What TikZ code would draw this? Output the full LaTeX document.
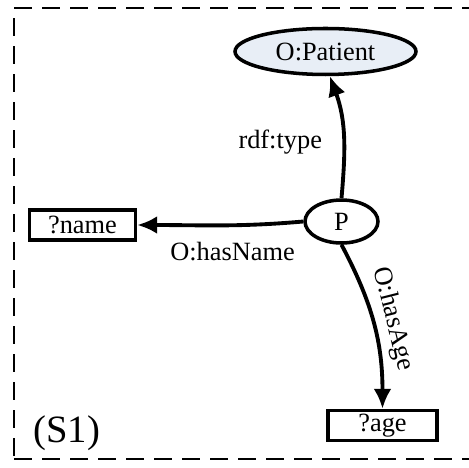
\documentclass[tikz,border=0pt]{standalone}
\usepackage{fontspec}
\setmainfont{Liberation Serif}
\usepackage{xcolor}
\usetikzlibrary{arrows.meta,positioning,shapes.geometric}
\definecolor{classfill}{RGB}{232,238,246}

\begin{document}
\begin{tikzpicture}[node distance=2cm,
        res/.style={ellipse,draw,line width=2pt,inner sep=1pt,font=\fontsize{15}{17}\selectfont},
        var/.style={rectangle,draw,line width=2pt,minimum width=2.12cm,minimum height=0.6cm,
          inner sep=0pt,font=\fontsize{15}{17}\selectfont},
        lbl/.style={font=\fontsize{15}{17}\selectfont},
        arrow/.style={-{Latex[length=4mm,width=3.6mm]},line width=2.2pt},
        frame/.style={dash pattern=on 0.36cm off 0.2cm,line width=1.2pt}]
        \useasboundingbox (0,0) rectangle (9.38,-9.34);
        \node[res,minimum width=1.46cm,minimum height=0.86cm] (p) at (6.83,-4.43) {P};
        \node[res,fill=classfill,minimum width=3.62cm,minimum height=0.92cm,
          above=2.44cm of p,xshift=-0.32cm] (patient) {O:Patient};
        \node[var,left=3.32cm of p,yshift=-0.07cm] (name) {?name};
        \node[var,minimum width=2.18cm,below=3.28cm of p,xshift=0.82cm] (age) {?age};
        \node[font=\fontsize{22}{25}\selectfont,inner sep=0pt,anchor=west] (s1) at (0.66,-8.66) {(S1)};
        \draw[arrow] (p.north) to[out=85,in=-70] node[lbl,left=0.28cm,pos=0.45]{rdf:type} (patient.-80);
        \draw[arrow] (p.west) to[out=185,in=0] node[lbl,below=0.18cm,pos=0.42]{O:hasName} (name.east);
        \draw[arrow] (p.south) to[out=-62,in=90] node[lbl,sloped,above,pos=0.5]{O:hasAge} (age.north);
        % dashed frame, open on the right
        \draw[frame] (0.28,-0.16) -- (9.38,-0.16);
        \draw[frame,dash phase=0.36cm] (0.28,-0.16) -- (0.28,-9.18);
        \draw[frame] (0.28,-9.18) -- (9.38,-9.18);
      \end{tikzpicture}
\end{document}
